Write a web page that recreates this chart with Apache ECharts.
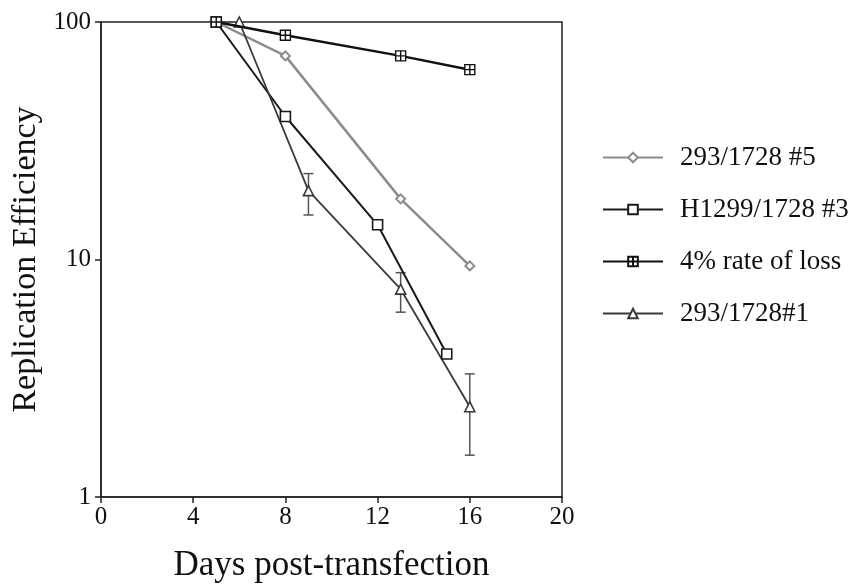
<!DOCTYPE html>
<html>
<head>
<meta charset="utf-8">
<script src="https://cdn.jsdelivr.net/npm/echarts@6/dist/echarts.min.js"></script>
<style>
  html, body { margin: 0; padding: 0; background: #fff; }
  #chart { width: 850px; height: 588px; }
</style>
</head>
<body>
<div id="chart"></div>
<script>
// values
const xTicks = [0, 4, 8, 12, 16, 20];
const yTicks = [1, 10, 100];

const days5 = [5, 8, 13, 16];
const eff5 = [100, 72, 18, 9.4];

const daysH1299 = [5, 8, 12, 15];
const effH1299 = [100, 40, 14, 4];

const daysLoss = [5, 8, 13, 16];
const effLoss = [100, 88, 72, 63];

const days1 = [6, 9, 13, 16];
const eff1 = [100, 19.5, 7.5, 2.4];
const errDays = [9, 13, 16];
const errLow = [15.4, 6.0, 1.5];
const errHigh = [23, 8.8, 3.3];

const names = ['293/1728 #5', 'H1299/1728 #3', '4% rate of loss', '293/1728#1'];

const pairs = (xs, ys) => xs.map((x, i) => [x, ys[i]]);
const serif = 'Liberation Serif';
const crossSquare = 'path://M0,0L10,0L10,10L0,10Z M5,0L5,10 M0,5L10,5';

const chart = echarts.init(document.getElementById('chart'));
chart.setOption({
  backgroundColor: '#fff',
  animation: false,
  textStyle: { fontFamily: serif },
  grid: {
    left: 101, top: 22, right: 288, bottom: 91,
    show: true, borderColor: '#222', borderWidth: 1.5, backgroundColor: 'transparent'
  },
  legend: {
    orient: 'vertical',
    left: 597, top: 139,
    itemWidth: 60, itemHeight: 12, itemGap: 25,
    data: names,
    textStyle: { fontFamily: serif, fontSize: 27, color: '#111', padding: [0, 0, 0, 12] }
  },
  xAxis: {
    type: 'value', min: 0, max: 20, interval: 4,
    name: 'Days post-transfection', nameLocation: 'middle', nameGap: 51,
    nameTextStyle: { fontFamily: serif, fontSize: 35, color: '#111' },
    axisLine: { show: true, lineStyle: { color: '#222', width: 1.5 } },
    axisTick: { show: true, length: 6, inside: false, lineStyle: { color: '#222', width: 1.5 } },
    axisLabel: { fontFamily: serif, fontSize: 25, color: '#111', margin: 8,
      customValues: xTicks },
    splitLine: { show: false }
  },
  yAxis: {
    type: 'log', logBase: 10, min: 1, max: 100,
    name: 'Replication Efficiency', nameLocation: 'middle', nameGap: 58, nameRotate: 90,
    nameTextStyle: { fontFamily: serif, fontSize: 34, color: '#111' },
    axisLine: { show: true, lineStyle: { color: '#222', width: 1.5 } },
    axisTick: { show: true, length: 6, inside: false, lineStyle: { color: '#222', width: 1.5 } },
    axisLabel: { fontFamily: serif, fontSize: 25, color: '#111', margin: 10,
      customValues: yTicks },
    minorTick: { show: false },
    splitLine: { show: false }
  },
  series: [
    {
      name: names[0], type: 'line', data: pairs(days5, eff5),
      symbol: 'diamond', symbolSize: 9, showAllSymbol: true, z: 3,
      lineStyle: { color: '#8c8c8c', width: 2.5 },
      itemStyle: { color: '#fff', borderColor: '#8c8c8c', borderWidth: 2 }
    },
    {
      name: names[1], type: 'line', data: pairs(daysH1299, effH1299),
      symbol: 'rect', symbolSize: 10, z: 4,
      lineStyle: { color: '#1a1a1a', width: 2 },
      itemStyle: { color: '#fff', borderColor: '#1a1a1a', borderWidth: 1.6 }
    },
    {
      name: names[2], type: 'line', data: pairs(daysLoss, effLoss),
      symbol: crossSquare, symbolSize: 10, z: 5,
      lineStyle: { color: '#111', width: 2.5 },
      itemStyle: { color: '#fff', borderColor: '#111', borderWidth: 1.4 }
    },
    {
      name: names[3], type: 'line', data: pairs(days1, eff1),
      symbol: 'triangle', symbolSize: 10, z: 4,
      lineStyle: { color: '#3a3a3a', width: 1.8 },
      itemStyle: { color: '#fff', borderColor: '#3a3a3a', borderWidth: 1.6 }
    },
    {
      name: 'err', type: 'custom', z: 2,
      data: errDays.map((d, i) => [d, errLow[i], errHigh[i]]),
      renderItem: function (params, api) {
        const lo = api.coord([api.value(0), api.value(1)]);
        const hi = api.coord([api.value(0), api.value(2)]);
        const w = 5;
        const style = { stroke: '#555', lineWidth: 1.5 };
        return {
          type: 'group',
          children: [
            { type: 'line', shape: { x1: lo[0], y1: lo[1], x2: hi[0], y2: hi[1] }, style },
            { type: 'line', shape: { x1: lo[0] - w, y1: lo[1], x2: lo[0] + w, y2: lo[1] }, style },
            { type: 'line', shape: { x1: hi[0] - w, y1: hi[1], x2: hi[0] + w, y2: hi[1] }, style }
          ]
        };
      }
    }
  ]
});
</script>
</body>
</html>
